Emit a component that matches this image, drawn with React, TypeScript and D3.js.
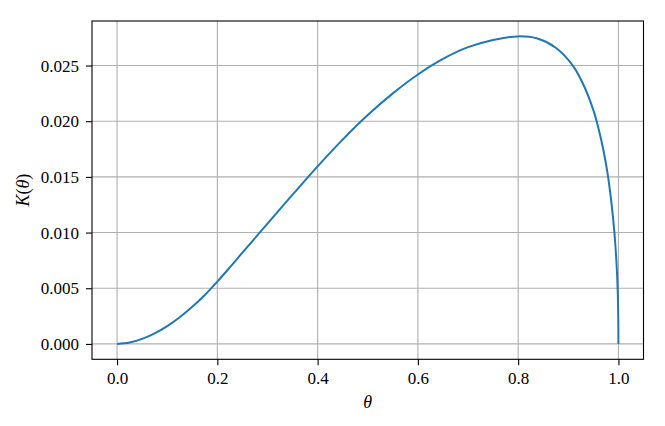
import React, { useEffect, useRef } from "react";
import * as d3 from "d3";

// values
const thetaValues = [
  0, 0.025, 0.05, 0.075, 0.1, 0.125, 0.15, 0.175, 0.2, 0.225, 0.25, 0.3, 0.35,
  0.4, 0.45, 0.5, 0.55, 0.6, 0.65, 0.7, 0.75, 0.8, 0.84, 0.875, 0.909, 0.93,
  0.95, 0.96, 0.97, 0.978, 0.986, 0.992, 0.9966, 0.9986, 0.9996, 1.0,
];
const kValues = [
  0, 0.00012, 0.00045, 0.00095, 0.0016, 0.0024, 0.00333, 0.0044, 0.0056,
  0.00688, 0.0082, 0.0108, 0.0134, 0.01595, 0.01835, 0.02055, 0.0225, 0.0242,
  0.0256, 0.02665, 0.0273, 0.02762, 0.0274, 0.0266, 0.025, 0.0233, 0.021,
  0.0194, 0.01742, 0.0154, 0.0127, 0.01, 0.0069, 0.0047, 0.0025, 0,
];
const xTicks = [0, 0.2, 0.4, 0.6, 0.8, 1.0];
const yTicks = [0, 0.005, 0.01, 0.015, 0.02, 0.025];

export default function App() {
  const svgRef = useRef<SVGSVGElement>(null);
  const width = 665;
  const height = 426;

  useEffect(() => {
    const svg = d3.select(svgRef.current);
    svg.selectAll("*").remove();

    const margin = { top: 21, right: 21.5, bottom: 66.7, left: 92 };
    const font = "'Liberation Serif', 'Times New Roman', serif";

    const kMax = d3.max(kValues) as number;
    const x = d3
      .scaleLinear()
      .domain([-0.05, 1.05])
      .range([margin.left, width - margin.right]);
    const y = d3
      .scaleLinear()
      .domain([-0.05 * kMax, 1.05 * kMax])
      .range([height - margin.bottom, margin.top]);

    const data = thetaValues.map((t, i) => ({ t, k: kValues[i] }));

    // grid
    const grid = svg.append("g").attr("stroke", "#b0b0b0").attr("stroke-width", 1.1);
    grid
      .selectAll("line.vx")
      .data(xTicks)
      .join("line")
      .attr("x1", (d) => x(d))
      .attr("x2", (d) => x(d))
      .attr("y1", margin.top)
      .attr("y2", height - margin.bottom);
    grid
      .selectAll("line.hy")
      .data(yTicks)
      .join("line")
      .attr("x1", margin.left)
      .attr("x2", width - margin.right)
      .attr("y1", (d) => y(d))
      .attr("y2", (d) => y(d));

    // curve
    const line = d3
      .line<{ t: number; k: number }>()
      .x((d) => x(d.t))
      .y((d) => y(d.k))
      .curve(d3.curveCatmullRom.alpha(0.5));
    svg
      .append("path")
      .datum(data)
      .attr("fill", "none")
      .attr("stroke", "#1f77b4")
      .attr("stroke-width", 2)
      .attr("stroke-linejoin", "round")
      .attr("d", line);

    // axes
    const xAxis = svg
      .append("g")
      .attr("transform", `translate(0,${height - margin.bottom})`)
      .call(
        d3
          .axisBottom(x)
          .tickValues(xTicks)
          .tickSize(6)
          .tickPadding(7)
          .tickFormat(d3.format(".1f") as any)
      );
    const yAxis = svg
      .append("g")
      .attr("transform", `translate(${margin.left},0)`)
      .call(
        d3
          .axisLeft(y)
          .tickValues(yTicks)
          .tickSize(6)
          .tickPadding(7)
          .tickFormat(d3.format(".3f") as any)
      );
    [xAxis, yAxis].forEach((a) => {
      a.select(".domain").remove();
      a.selectAll("line").attr("stroke", "#000").attr("stroke-width", 1.1);
      a.selectAll("text")
        .attr("fill", "#000")
        .style("font-family", font)
        .style("font-size", "17px");
    });

    // frame
    svg
      .append("rect")
      .attr("x", margin.left)
      .attr("y", margin.top)
      .attr("width", width - margin.left - margin.right)
      .attr("height", height - margin.top - margin.bottom)
      .attr("fill", "none")
      .attr("stroke", "#000")
      .attr("stroke-width", 1.1);

    // x label
    svg
      .append("text")
      .attr("x", (margin.left + width - margin.right) / 2)
      .attr("y", 408)
      .attr("text-anchor", "middle")
      .style("font-family", font)
      .style("font-size", "18px")
      .style("font-style", "italic")
      .text("θ");

    // y label
    const yl = svg
      .append("text")
      .attr("text-anchor", "middle")
      .attr(
        "transform",
        `translate(29,${(margin.top + height - margin.bottom) / 2})rotate(-90)`
      )
      .style("font-family", font)
      .style("font-size", "18px");
    yl.append("tspan").style("font-style", "italic").text("K");
    yl.append("tspan").text("(");
    yl.append("tspan").style("font-style", "italic").text("θ");
    yl.append("tspan").text(")");
  }, []);

  return (
    <svg
      ref={svgRef}
      width={width}
      height={height}
      style={{ position: "absolute", left: 0, top: 0, background: "#fff" }}
    ></svg>
  );
}
